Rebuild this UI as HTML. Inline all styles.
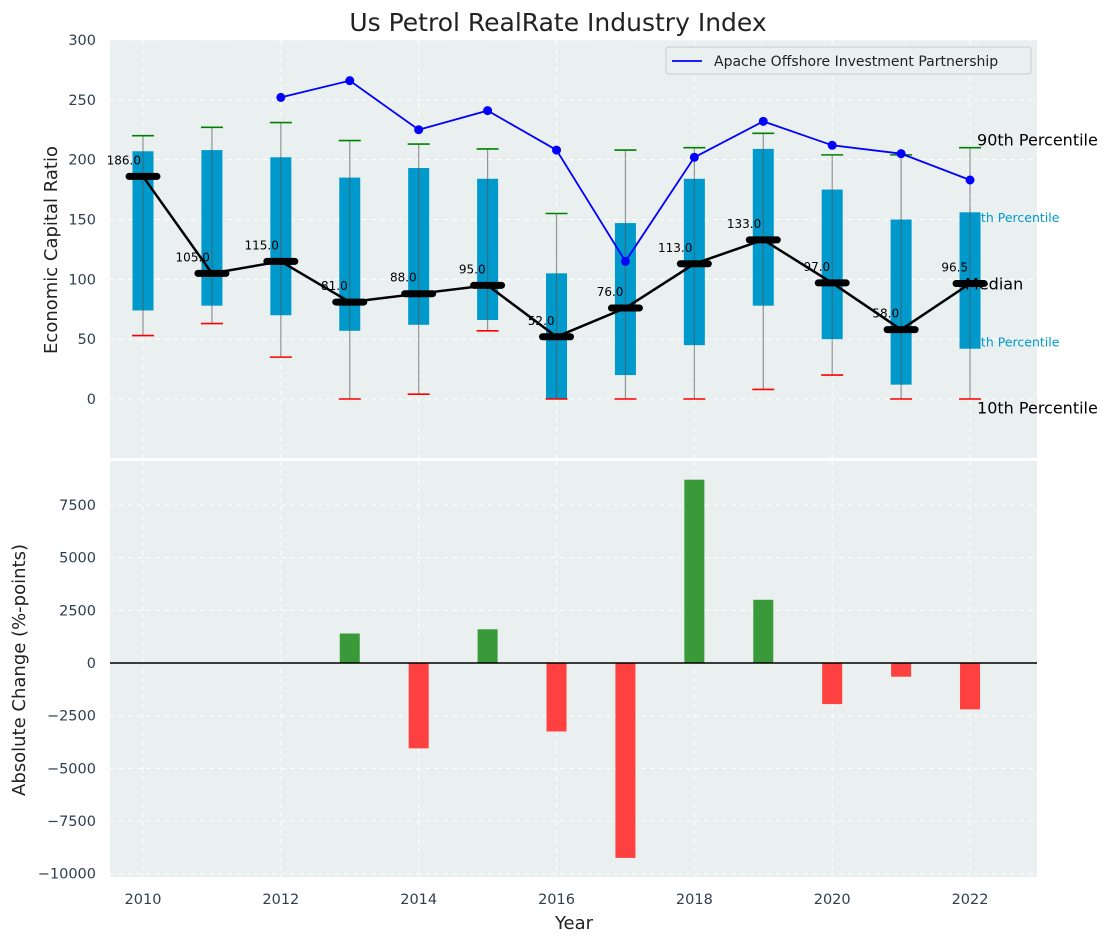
<!DOCTYPE html>
<html><head><meta charset="utf-8"><style>
body{margin:0;background:#fff;font-family:"Liberation Sans","DejaVu Sans",sans-serif}
svg text{font-family:"DejaVu Sans","Liberation Sans",sans-serif}
</style></head><body>
<svg id="c" width="1112" height="942" xmlns="http://www.w3.org/2000/svg"></svg>
<script>
const years=[2010,2011,2012,2013,2014,2015,2016,2017,2018,2019,2020,2021,2022];
const p10=[53,63,35,0,4,57,0,0,0,8,20,0,0];
const p25=[74,78,70,57,62,66,0,20,45,78,50,12,42];
const med=[186,105,115,81,88,95,52,76,113,133,97,58,96.5];
const p75=[207,208,202,185,193,184,105,147,184,209,175,150,156];
const p90=[220,227,231,216,213,209,155,208,210,222,204,204,210];
const apacheYears=[2012,2013,2014,2015,2016,2017,2018,2019,2020,2021,2022];
const apacheVals=[252,266,225,241,208,115,202,232,212,205,183];
const changeYears=[2013,2014,2015,2016,2017,2018,2019,2020,2021,2022];
const changeVals=[1400,-4050,1600,-3250,-9250,8700,3000,-1950,-650,-2200];
const topTicks=[0,50,100,150,200,250,300];
const botTicks=[-10000,-7500,-5000,-2500,0,2500,5000,7500];
const xTicks=[2010,2012,2014,2016,2018,2020,2022];

const svg=document.getElementById('c');const NS='http://www.w3.org/2000/svg';
function el(t,a,txt){const e=document.createElementNS(NS,t);for(const k in a)e.setAttribute(k,a[k]);if(txt!==undefined)e.textContent=txt;svg.appendChild(e);return e;}
const X0=110,X1=1037;
const x=v=>143+(v-2010)*68.92;
const yT=v=>399-v*1.1967;
const yB=v=>663-v*0.02107;
const T0=40,T1=458,B0=461,B1=877;

let e;
e=el('rect',{x:X0,y:T0,width:X1-X0,height:T1-T0,fill:'#eaeff0'});

e=el('rect',{x:X0,y:B0,width:X1-X0,height:B1-B0,fill:'#eaeff0'});

topTicks.forEach(t=>{
 e=el('line',{x1:X0,x2:X1,y1:yT(t),y2:yT(t),stroke:'#fff','stroke-dasharray':'5,4','stroke-width':1});
 
 e=el('text',{x:96,y:yT(t)+5,'text-anchor':'end','font-size':14.5,fill:'#2f3e50'},t);
 
});
botTicks.forEach(t=>{
 e=el('line',{x1:X0,x2:X1,y1:yB(t),y2:yB(t),stroke:'#fff','stroke-dasharray':'5,4','stroke-width':1});
 
 e=el('text',{x:96,y:yB(t)+5,'text-anchor':'end','font-size':14.5,fill:'#2f3e50'},t<0?'\u2212'+(-t):t);
 
});
xTicks.forEach(t=>{
 [[T0,T1],[B0,B1]].forEach(r=>{
  e=el('line',{x1:x(t),x2:x(t),y1:r[0],y2:r[1],stroke:'#fff','stroke-dasharray':'5,4','stroke-width':1});
  
 });
 e=el('text',{x:x(t),y:904,'text-anchor':'middle','font-size':14.5,fill:'#2f3e50'},t);
 
});
const lx=x(2022)+7;
e=el('text',{x:lx,y:yT(217)+6,'font-size':16,fill:'#000'},'90th Percentile');
e=el('text',{x:lx-12,y:yT(152)+5,'font-size':12.5,fill:'#0099cc'},'75th Percentile');
e=el('text',{x:lx-12,y:yT(48)+5,'font-size':12.5,fill:'#0099cc'},'25th Percentile');
e=el('text',{x:lx,y:yT(-7)+6,'font-size':16,fill:'#000'},'10th Percentile');
years.forEach((yr,i)=>{
 const cx=x(yr);
 e=el('rect',{x:cx-10.5,y:yT(p75[i]),width:21,height:yT(p25[i])-yT(p75[i]),fill:'#0099cc'});
 
 e=el('line',{x1:cx,x2:cx,y1:yT(p10[i]),y2:yT(p90[i]),stroke:'#555','stroke-opacity':0.6,'stroke-width':1.2});
 
 e=el('line',{x1:cx-11,x2:cx+11,y1:yT(p90[i]),y2:yT(p90[i]),stroke:'green','stroke-width':1.6});
 
 e=el('line',{x1:cx-11,x2:cx+11,y1:yT(p10[i]),y2:yT(p10[i]),stroke:'red','stroke-width':1.6});
 
});
e=el('text',{x:lx-12,y:yT(96.5)+6,'font-size':16,fill:'#000'},'Median');
e=el('polyline',{points:years.map((yr,i)=>x(yr)+','+yT(med[i])).join(' '),fill:'none',stroke:'#000','stroke-width':2.5});

years.forEach((yr,i)=>{
 e=el('line',{x1:x(yr)-14,x2:x(yr)+14,y1:yT(med[i]),y2:yT(med[i]),stroke:'#000','stroke-width':7,'stroke-linecap':'round'});
 
 e=el('text',{x:x(yr)-2,y:yT(med[i])-12,'text-anchor':'end','font-size':12,fill:'#000'},med[i].toFixed(1));
 
});
e=el('polyline',{points:apacheYears.map((yr,i)=>x(yr)+','+yT(apacheVals[i])).join(' '),fill:'none',stroke:'#0000ff','stroke-width':1.8});

apacheYears.forEach((yr,i)=>{
 e=el('circle',{cx:x(yr),cy:yT(apacheVals[i]),r:4.5,fill:'#0000ff'});
 
});
e=el('rect',{x:666,y:47,width:365,height:27,fill:'#eaeff0',stroke:'#ccc',rx:3});

e=el('line',{x1:672,x2:702,y1:61,y2:61,stroke:'#0000ff','stroke-width':1.8});

e=el('text',{x:714,y:66,'font-size':14,fill:'#222'},'Apache Offshore Investment Partnership');

changeYears.forEach((yr,i)=>{
 const v=changeVals[i];
 e=el('rect',{x:x(yr)-10,y:Math.min(yB(v),yB(0)),width:20,height:Math.abs(yB(v)-yB(0)),fill:v>=0?'#3a9a3a':'#ff4040'});
 
});
e=el('line',{x1:X0,x2:X1,y1:yB(0),y2:yB(0),stroke:'#000','stroke-width':1.4});

e=el('text',{x:558,y:31,'text-anchor':'middle','font-size':25,fill:'#222'},'Us Petrol RealRate Industry Index');

e=el('text',{x:574,y:929,'text-anchor':'middle','font-size':18,fill:'#222'},'Year');

e=el('text',{x:57,y:250,'text-anchor':'middle','font-size':18,fill:'#222',transform:'rotate(-90 57 250)'},'Economic Capital Ratio');

e=el('text',{x:25,y:670,'text-anchor':'middle','font-size':18,fill:'#222',transform:'rotate(-90 25 670)'},'Absolute Change (%-points)');

</script>
</body></html>
